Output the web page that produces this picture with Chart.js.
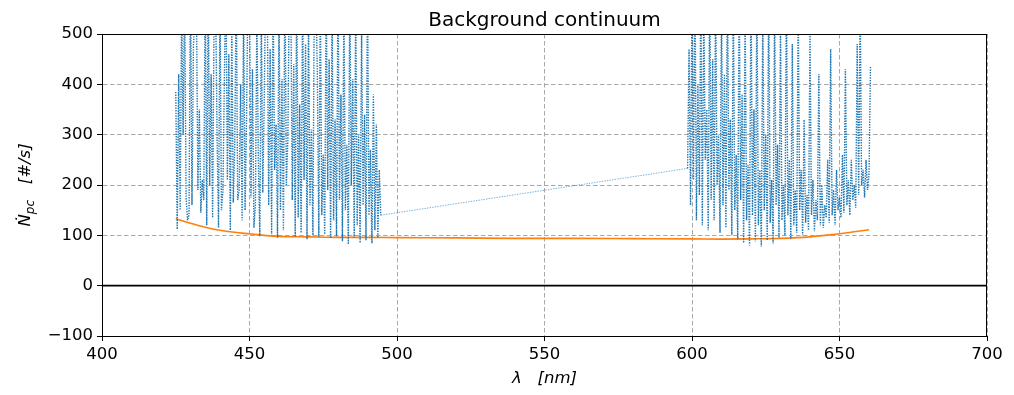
<!DOCTYPE html>
<html><head><meta charset="utf-8">
<script src="https://cdn.jsdelivr.net/npm/chart.js@4.4.0/dist/chart.umd.min.js"></script>
<style>html,body{margin:0;padding:0;background:#fff}canvas{display:block}</style>
</head><body>
<canvas id="c" width="1014" height="395"></canvas>
<script>
const titleText = 'Background continuum';
const xTicks = [400, 450, 500, 550, 600, 650, 700];
const yTicks = [-100, 0, 100, 200, 300, 400, 500];

// measured spectrum, blue band (nm grid start + step 0.5)
const seg1Start = 425.0;
const seg1Values = [385,112,420,150,560,300,600,175,130,140,620,160,480,525,580,190,350,145,210,170,
610,120,590,200,420,135,540,580,300,115,570,150,190,420,620,210,460,110,520,165,
280,600,170,190,400,130,560,150,330,610,590,175,430,115,160,540,250,98,550,185,
370,620,600,160,470,102,580,230,320,95,560,150,410,110,630,200,290,600,590,170,
440,97,610,135,360,105,570,210,480,92,540,160,310,100,620,580,420,96,580,140,
260,102,600,190,450,94,550,130,330,98,610,170,380,88,570,150,280,82,590,200,
410,95,560,120,300,85,520,160,340,90,600,140,270,84,380,110,320,95,230,140];
const seg2Start = 598.5;
const seg2Values = [233,470,160,580,210,620,130,400,180,600,120,560,250,350,110,610,170,450,130,590,
200,300,105,570,160,420,115,620,190,330,100,580,150,260,92,600,170,380,85,560,
130,240,80,610,140,350,88,590,120,230,78,540,150,300,90,600,125,210,84,570,
160,280,95,520,130,200,100,600,140,250,92,480,120,190,105,560,150,230,100,330,
125,180,110,500,140,210,108,170,130,420,120,200,115,160,135,250,125,470,140,190,
120,230,150,175,135,260,145,430,160,210,140,250,170,200,155,480,180,560,200,230,
175,250,190,220,435];
const stepNm = 0.5;

// fitted continuum (orange)
const fitX = [425,430,435,440,445,450,455,460,470,480,490,500,520,540,560,580,600,610,620,630,640,645,650,655,660];
const fitY = [133,124,116,110,106,103,100,98,97,96,96,95.5,95,94,94,93.5,93,92.5,93,94,97,100,103,107,111];

const zeroLine = [0, 0];
const zeroX = [400, 700];

const spectrum = [];
seg1Values.forEach((v,i)=>spectrum.push({x: seg1Start + i*stepNm, y: v}));
seg2Values.forEach((v,i)=>spectrum.push({x: seg2Start + i*stepNm, y: v}));
const fit = fitX.map((x,i)=>({x, y: fitY[i]}));
const zero = zeroX.map((x,i)=>({x, y: zeroLine[i]}));
const gapIndex = seg1Values.length - 1;

const FONT = "'DejaVu Sans', sans-serif";

const decor = {
  id: 'decor',
  afterDatasetsDraw(chart) {
    const {ctx, chartArea: a} = chart;
    ctx.save();
    ctx.strokeStyle = '#000';
    ctx.lineWidth = 1;
    ctx.strokeRect(a.left + 0.5, a.top + 0.5, a.right - a.left - 1, a.bottom - a.top);
    ctx.restore();
  },
  afterDraw(chart) {
    const {ctx, chartArea: a} = chart;
    const cx = (a.left + a.right) / 2;
    ctx.save();
    ctx.fillStyle = '#000';
    ctx.font = `20px ${FONT}`;
    ctx.textAlign = 'center';
    ctx.textBaseline = 'alphabetic';
    ctx.fillText(titleText, cx, 26);
    ctx.font = `italic 16.5px ${FONT}`;
    ctx.fillText('λ   [nm]', cx, 383);
    const cy = (a.top + a.bottom) / 2;
    ctx.translate(30, cy);
    ctx.rotate(-Math.PI / 2);
    ctx.textAlign = 'left';
    const f1 = `italic 16.5px ${FONT}`, f2 = `italic 12px ${FONT}`;
    const p1 = 'Ṅ', p2 = 'pc', p3 = '   [#/s]';
    ctx.font = f1; const w1 = ctx.measureText(p1).width;
    ctx.font = f2; const w2 = ctx.measureText(p2).width;
    ctx.font = f1; const w3 = ctx.measureText(p3).width;
    let x0 = -(w1 + w2 + w3) / 2;
    ctx.font = f1; ctx.fillText(p1, x0, 0); x0 += w1;
    ctx.font = f2; ctx.fillText(p2, x0, 4); x0 += w2;
    ctx.font = f1; ctx.fillText(p3, x0, 0);
    ctx.restore();
  }
};

new Chart(document.getElementById('c'), {
  type: 'line',
  data: {
    datasets: [
      { data: spectrum, borderColor: '#1f77b4', borderWidth: 1.4, borderDash: [1.4, 1.2], pointRadius: 0, tension: 0, fill: false,
        segment: {
          borderWidth: c => c.p0DataIndex === gapIndex ? 0.8 : 1.4,
          borderColor: c => c.p0DataIndex === gapIndex ? 'rgba(31,119,180,0.75)' : '#1f77b4'
        } },
      { data: fit, borderColor: '#ff7f0e', borderWidth: 1.6, pointRadius: 0, cubicInterpolationMode: 'monotone', fill: false },
      { data: zero, borderColor: '#000', borderWidth: 1.6, pointRadius: 0, fill: false }
    ]
  },
  options: {
    responsive: false,
    animation: false,
    devicePixelRatio: 1,
    layout: { padding: { left: 0, right: 27, top: 34, bottom: 0 } },
    plugins: { legend: { display: false }, tooltip: { enabled: false }, title: { display: false } },
    scales: {
      x: {
        type: 'linear', min: 400, max: 700,
        afterBuildTicks: s => { s.ticks = xTicks.map(v => ({value: v})); },
        afterFit: s => { s.height = 59; },
        grid: { color: '#a8a8a8', lineWidth: 1, drawTicks: true, tickLength: 5, tickColor: '#000', tickWidth: 1, tickBorderDash: [] },
        border: { display: true, color: '#000', width: 1, dash: [4.5, 2.5] },
        ticks: { color: '#000', font: { family: FONT, size: 16.5 }, padding: 4, maxRotation: 0 }
      },
      y: {
        type: 'linear', min: -100, max: 500,
        afterBuildTicks: s => { s.ticks = yTicks.map(v => ({value: v})); },
        afterFit: s => { s.width = 102; },
        grid: { color: '#a8a8a8', lineWidth: 1, drawTicks: true, tickLength: 5, tickColor: '#000', tickWidth: 1, tickBorderDash: [] },
        border: { display: true, color: '#000', width: 1, dash: [4.5, 2.5] },
        ticks: { color: '#000', font: { family: FONT, size: 16.5 }, padding: 4,
          callback: v => String(v).replace('-', '\u2212') }
      }
    }
  },
  plugins: [decor]
});
</script>
</body></html>
